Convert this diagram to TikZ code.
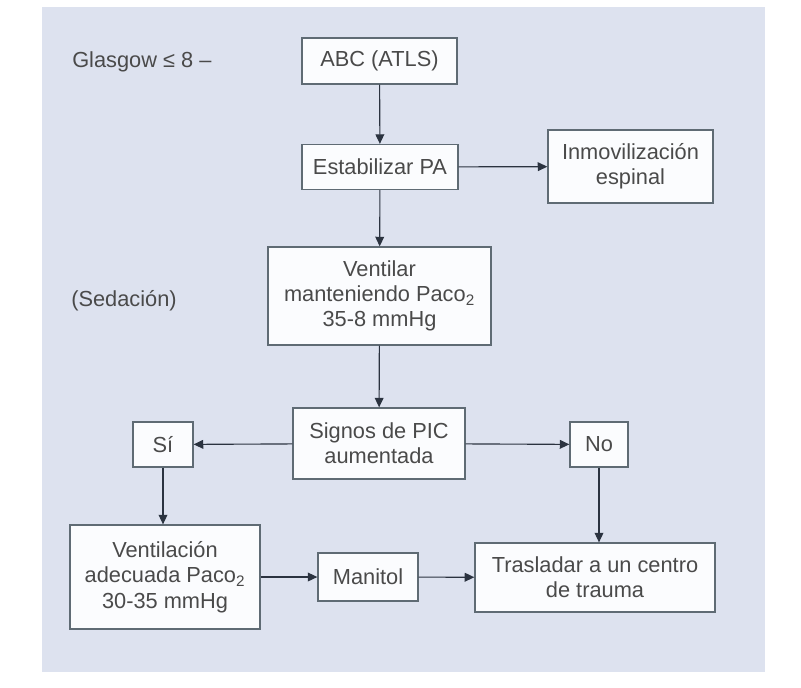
\documentclass[tikz,border=0pt]{standalone}
\usepackage{fontspec}
\setmainfont{Liberation Sans}
\usetikzlibrary{arrows.meta,positioning}
\definecolor{pnlBack}{HTML}{DDE2EF}
\definecolor{pnlEdge}{HTML}{5F6B74}
\definecolor{pnlText}{HTML}{4A4A4A}
\definecolor{pnlArrow}{HTML}{2B3340}
\definecolor{pnlFill}{HTML}{FBFCFE}
\tikzset{
  >={Triangle[length=2.4mm,width=2.2mm]},
  box/.style={draw=pnlEdge, fill=pnlFill, line width=0.9pt, align=center,
              inner sep=0pt, text=pnlText, font=\fontsize{15.5}{18}\selectfont},
  lbl/.style={anchor=west, inner sep=0pt, text=pnlText,
              font=\fontsize{15.5}{18}\selectfont},
  flow/.style={->, draw=pnlArrow, line width=0.8pt},
}
\newcommand{\paco}{Paco\textsubscript{2}}

\begin{document}
\begin{tikzpicture}[x=0.025cm,y=-0.025cm]
  \useasboundingbox (0,0) rectangle (801,687);
  \fill[white] (0,0) rectangle (801,687);
  \fill[pnlBack] (42,7) rectangle (765,672);

  % left-hand notes
  \node[lbl] (glasgow) at (72,62) {Glasgow ≤ 8 –};
  \node[lbl] (sedacion) at (71,301) {(Sedación)};

  % main column
  \node[box,minimum width=3.875cm,minimum height=1.15cm] (abc) at (379.5,61) {ABC (ATLS)};
  \node[box,minimum width=3.9cm,minimum height=1.125cm] (estab) at (380,167) {Estabilizar PA};
  \node[box,minimum width=4.125cm,minimum height=1.825cm] (inmov) at (630.5,166.5) {Inmovilización\\espinal};
  \node[box,minimum width=5.575cm,minimum height=2.45cm] (ventilar) at (379.5,296) {Ventilar\\manteniendo \paco\\35-8 mmHg};
  \node[box,minimum width=4.3cm,minimum height=1.775cm] (signos) at (379,443.5) {Signos de PIC\\aumentada};

  % branches
  \node[box,minimum width=1.5cm,minimum height=1.125cm] (si) at (163,444.5) {Sí};
  \node[box,minimum width=1.45cm,minimum height=1.125cm] (no) at (599,444.5) {No};
  \node[box,minimum width=4.75cm,minimum height=2.6cm] (ventad) at (165,577) {Ventilación\\adecuada \paco\\30-35 mmHg};
  \node[box,minimum width=2.5cm,minimum height=1.2cm] (manitol) at (368,577) {Manitol};
  \node[box,minimum width=6cm,minimum height=1.725cm] (traslad) at (595,577.5) {Trasladar a un centro\\de trauma};

  \draw[flow] (abc) -- (estab);
  \draw[flow] (estab) -- (inmov);
  \draw[flow] (estab) -- (ventilar);
  \draw[flow] (ventilar) -- (signos);
  \draw[flow] (signos) -- (si);
  \draw[flow] (signos) -- (no);
  \draw[flow] (si) -- (ventad.north -| si);
  \draw[flow] (no) -- (traslad.north -| no);
  \draw[flow] (ventad) -- (manitol);
  \draw[flow] (manitol) -- (traslad);
\end{tikzpicture}
\end{document}
